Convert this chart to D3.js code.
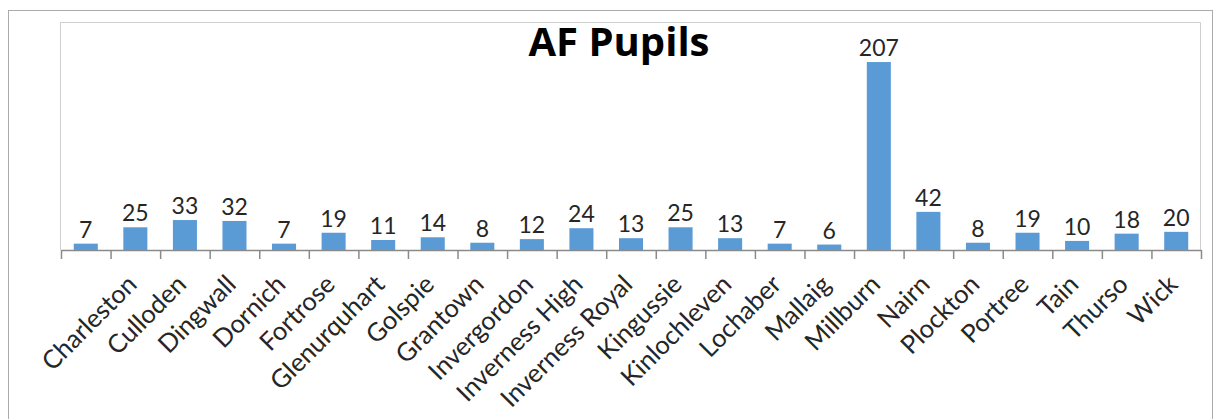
<!DOCTYPE html>
<html>
<head>
<meta charset="utf-8">
<script src="https://cdn.jsdelivr.net/npm/d3@7"></script>
<style>
  html, body { margin: 0; padding: 0; background: #fff; }
  svg { display: block; font-family: Lato, "Open Sans", sans-serif; }
</style>
</head>
<body>
<svg id="chart" width="1222" height="419"></svg>
<script>
// School names (the first bar has no label) and AF pupil counts
const schools = ["", "Charleston", "Culloden", "Dingwall", "Dornich", "Fortrose", "Glenurquhart",
  "Golspie", "Grantown", "Invergordon", "Inverness High", "Inverness Royal", "Kingussie",
  "Kinlochleven", "Lochaber", "Mallaig", "Millburn", "Nairn", "Plockton", "Portree",
  "Tain", "Thurso", "Wick"];
const pupils = [7, 25, 33, 32, 7, 19, 11, 14, 8, 12, 24, 13, 25, 13, 7, 6, 207, 42, 8, 19, 10, 18, 20];
const yDomain = [0, 250];
const chartTitle = "AF Pupils";

const svg = d3.select("#chart");
const plot = { left: 61, right: 1201, top: 23, bottom: 250 };
const keys = schools.map((s, i) => i);

const x = d3.scaleBand()
  .domain(keys)
  .range([plot.left, plot.right])
  .paddingInner(0.515)
  .paddingOuter(0.2575);

const y = d3.scaleLinear().domain(yDomain).range([plot.bottom, plot.top]);

// Chart area frame
svg.append("rect")
  .attr("x", 8.5).attr("y", 10.5)
  .attr("width", 1204).attr("height", 430)
  .attr("fill", "none").attr("stroke", "#ababab").attr("stroke-width", 1);

// Plot area frame
svg.append("path")
  .attr("d", `M${plot.left - 0.5},${plot.bottom}V${plot.top - 0.5}H${plot.right - 0.5}V${plot.bottom}`)
  .attr("fill", "none").attr("stroke", "#cfcfcf").attr("stroke-width", 1);

// Title
svg.append("text")
  .attr("x", 619).attr("y", 55.5)
  .attr("text-anchor", "middle")
  .attr("font-family", "'Open Sans', Lato, sans-serif")
  .attr("font-weight", "bold")
  .attr("font-size", 40)
  .attr("fill", "#000")
  .text(chartTitle);

// Bars
svg.append("g").selectAll("rect")
  .data(pupils)
  .join("rect")
  .attr("x", (d, i) => x(i))
  .attr("width", x.bandwidth())
  .attr("y", d => y(d))
  .attr("height", d => y(0) - y(d))
  .attr("fill", "#5b9bd5");

// Value labels above bars
svg.append("g").selectAll("text")
  .data(pupils)
  .join("text")
  .attr("x", (d, i) => x(i) + x.bandwidth() / 2)
  .attr("y", d => y(d) - 6)
  .attr("text-anchor", "middle")
  .attr("font-size", 23)
  .attr("fill", "#262626")
  .text(d => d);

// Category axis: baseline with tick marks between bands
const axis = svg.append("g").attr("transform", `translate(0,${plot.bottom})`);
const tickAxis = d3.axisBottom(d3.scaleLinear().domain([0, schools.length]).range([plot.left, plot.right]))
  .tickValues(d3.range(schools.length + 1))
  .tickSize(9)
  .tickSizeOuter(0)
  .tickFormat("");
axis.call(tickAxis);
axis.selectAll("path, line").attr("stroke", "#8a8a8a").attr("stroke-width", 1.5);

// Rotated school names
svg.append("g").selectAll("text")
  .data(schools)
  .join("text")
  .attr("transform", (d, i) => `translate(${x(i) + x.bandwidth() / 2 + 3},${286}) rotate(-45)`)
  .attr("text-anchor", "end")
  .attr("font-size", 25.5)
  .attr("fill", "#262626")
  .text(d => d);
</script>
</body>
</html>
